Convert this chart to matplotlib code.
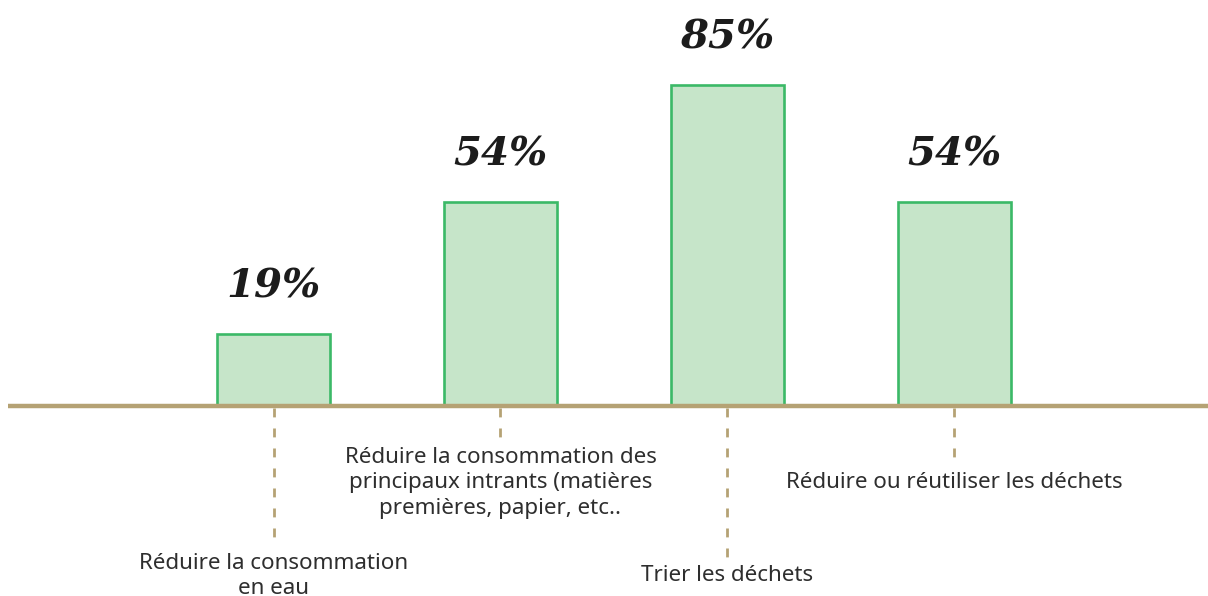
import matplotlib.pyplot as plt

# données
categories = [
    "Réduire la consommation\nen eau",
    "Réduire la consommation des\nprincipaux intrants (matières\npremières, papier, etc..",
    "Trier les déchets",
    "Réduire ou réutiliser les déchets",
]
values = [19, 54, 85, 54]
value_labels = ["19%", "54%", "85%", "54%"]

# mise en page sous l'axe (en unités de %)
leader_ends = [-36.0, -9.8, -40.0, -14.3]
label_centers = [-45.0, -20.4, -45.0, -20.4]

BAR_FILL = "#c6e5c9"
BAR_EDGE = "#3bb967"
AXIS_COL = "#b5a274"
TEXT_COL = "#2e2e2e"

fig = plt.figure(figsize=(12.08, 5.96), dpi=100)
ax = fig.add_axes([0, 0, 1, 1])
ax.set_xlim(-1.205, 4.117)
ax.set_ylim(-50.3, 107.4)
ax.axis("off")

x = list(range(len(values)))
ax.bar(x, values, width=0.5, color=BAR_FILL, edgecolor=BAR_EDGE,
       linewidth=1.9, zorder=2)

# ligne de base
ax.plot([-1.17, 4.2], [0, 0], color=AXIS_COL, linewidth=3.2,
        solid_capstyle="butt", zorder=3)

for xi, v, lab, end, yc, cat in zip(x, values, value_labels, leader_ends,
                                    label_centers, categories):
    ax.text(xi, v + 12.5, lab, ha="center", va="center", fontsize=29,
            family="DejaVu Serif", fontweight="bold", style="italic",
            color="#1c1c1c")
    ax.plot([xi, xi], [-0.5, end], color=AXIS_COL, linewidth=2.0,
            dashes=(3.2, 4.0), zorder=1)
    ax.text(xi, yc, cat, ha="center", va="center", fontsize=16.1,
            family="Noto Sans", color=TEXT_COL, linespacing=1.3)

fig.savefig("out.png", dpi=100)
